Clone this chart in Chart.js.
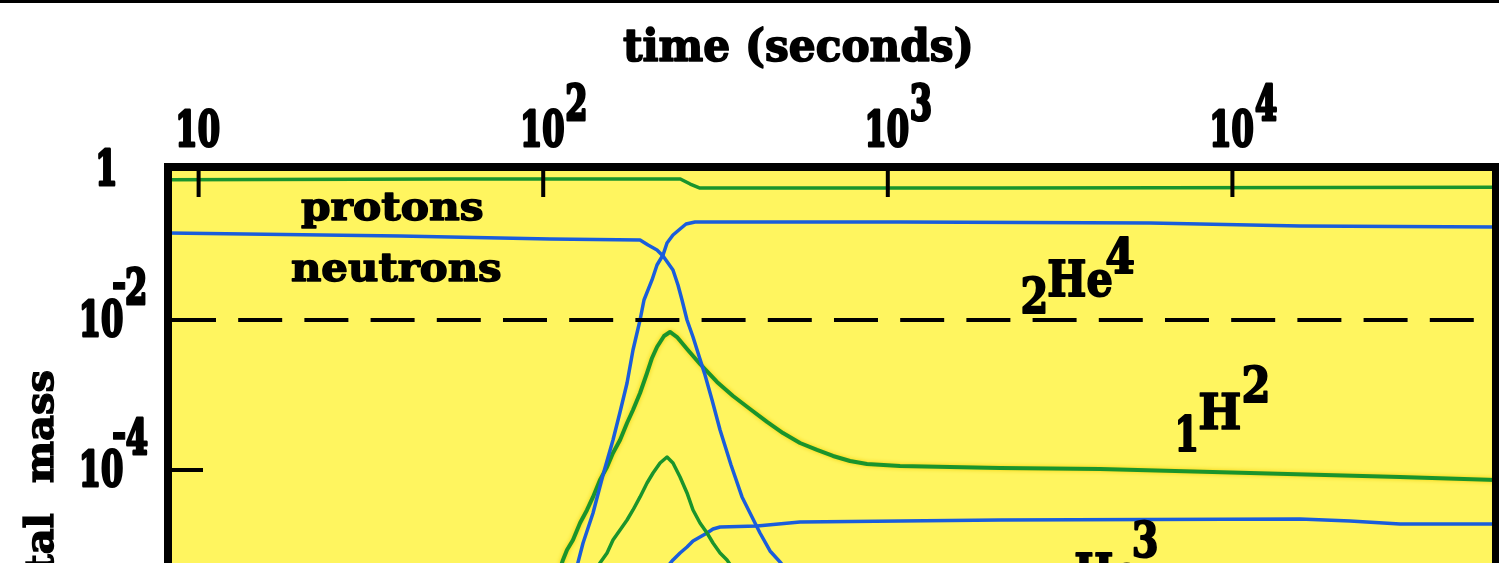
<!DOCTYPE html>
<html>
<head>
<meta charset="utf-8">
<title>Light element abundances vs time</title>
<script src="https://cdn.jsdelivr.net/npm/chart.js@4/dist/chart.umd.min.js"></script>
<style>
  html, body { margin: 0; padding: 0; background: #fff; overflow: hidden; }
  canvas { display: block; }
</style>
</head>
<body>
<canvas id="bbn-chart" width="1499" height="563"></canvas>
<script>
let bbnCanvas = document.getElementById("bbn-chart");

// Axis ranges and tick values (time in seconds, mass fraction)
const timeTicks = [10, 100, 1000, 10000];
const massTicks = [1, 1e-2, 1e-4];
const timeRange = [8.15, 58200];
const massRange = [5.75e-6, 1.0965];

// Dashed reference level
const refTime = [8.37, 58200];
const refLevel = 0.01;

// protons
const protonTime = [8.15, 54, 250, 267, 285, 2100, 58200];
const protonFrac = [0.74, 0.76, 0.76, 0.65, 0.575, 0.575, 0.59];

// neutrons
const neutronTime = [8.15, 38.4, 104.6, 191, 201.5, 213.9, 222.7, 238, 246.1, 252.8, 261.4, 272.1, 294.8, 309, 326, 350.8, 377.5, 403.6, 425.7, 455.2, 486.6, 503.1];
const neutronFrac = [0.1445, 0.1318, 0.1202, 0.1166, 0.1, 0.0858, 0.0714, 0.0464, 0.0293, 0.01848, 0.01, 0.00593, 0.001848, 0.000858, 0.000342, 0.0001166, 4.37e-5, 2.36e-5, 1.445e-5, 8.32e-6, 5.93e-6, 4.94e-6];

// 2He4
const he4Time = [125.4, 130.5, 139.5, 149.1, 159.4, 167.1, 175.1, 182.2, 191, 196.1, 206.9, 213.9, 222.7, 228.7, 238, 249.5, 259.7, 275.8, 1085, 5765, 15710, 58200];
const he4Frac = [5.25e-6, 1.063e-5, 2.67e-5, 8.58e-5, 0.000251, 0.000593, 0.001445, 0.00398, 0.01, 0.01848, 0.0342, 0.0541, 0.0736, 0.1063, 0.136, 0.1634, 0.1905, 0.2026, 0.2026, 0.1965, 0.1792, 0.1738];

// 1H2 (deuterium)
const h2Time = [112.6, 114.1, 117.2, 122, 127.9, 134, 139.5, 146.1, 153.2, 159.4, 167.1, 175.1, 182.2, 191, 200.1, 206.9, 213.9, 224.2, 233.3, 244.5, 261.4, 285.1, 319.4, 355.5, 398.2, 446.2, 496.4, 556.2, 623.1, 693.4, 776.9, 870.2, 1085, 2117, 4129, 11250, 30640, 58200];
const h2Frac = [5.25e-6, 6.31e-6, 8.58e-6, 1.166e-5, 1.965e-5, 2.93e-5, 4.37e-5, 7.36e-5, 1.096e-4, 1.685e-4, 2.51e-4, 4.23e-4, 6.31e-4, 1.063e-3, 1.965e-3, 3.114e-3, 4.365e-3, 6.12e-3, 6.92e-3, 5.93e-3, 4.10e-3, 2.59e-3, 1.49e-3, 9.70e-4, 6.51e-4, 4.37e-4, 3.11e-4, 2.29e-4, 1.85e-4, 1.537e-4, 1.318e-4, 1.202e-4, 1.131e-4, 1.063e-4, 1.031e-4, 9.12e-5, 8.06e-5, 7.36e-5];

// 1H3 (tritium)
const h3Time = [143.3, 146.1, 153.2, 159.4, 167.1, 175.1, 182.2, 191, 200.1, 208.3, 218.3, 228.7, 238, 249.5, 261.4, 272.1, 285.1, 298.8, 311, 326, 341.5, 350.8];
const h3Frac = [4.94e-6, 5.75e-6, 7.82e-6, 1.166e-5, 1.585e-5, 2.154e-5, 2.93e-5, 4.37e-5, 6.71e-5, 9.12e-5, 1.24e-4, 1.49e-4, 1.24e-4, 8.06e-5, 4.94e-5, 2.93e-5, 1.965e-5, 1.445e-5, 1.063e-5, 7.82e-6, 6.31e-6, 5.25e-6];

// 2He3
const he3Time = [230.2, 238, 249.5, 261.4, 272.1, 285.1, 298.8, 311, 326, 417.4, 556.2, 2117, 15710, 21950, 30640, 58200];
const he3Frac = [5.25e-6, 6.31e-6, 7.82e-6, 9.4e-6, 1.131e-5, 1.279e-5, 1.445e-5, 1.634e-5, 1.738e-5, 1.792e-5, 2.026e-5, 2.154e-5, 2.22e-5, 2.089e-5, 1.905e-5, 1.905e-5];

// Colours
const plotYellow = '#fff55f';
const lineGreen = '#1a942c';
const lineBlue = '#1a5ddb';
const FONT = '"DejaVu Serif", serif';

const pts = (ts, vs) => ts.map((t, i) => ({ x: t, y: vs[i] }));

// Text helper: puts the ink's left edge at x (or right edge, align 'right'),
// optionally squeezed horizontally with sx or fitted to width w
function ink(ctx, str, x, y, size, opts = {}) {
    ctx.font = `bold ${size}px ${FONT}`;
    ctx.textAlign = 'left';
    ctx.textBaseline = 'alphabetic';
    const m = ctx.measureText(str);
    const raw = m.actualBoundingBoxLeft + m.actualBoundingBoxRight;
    const sx = opts.w ? opts.w / raw : (opts.sx || 1);
    const left = opts.align === 'right' ? x - raw * sx : x;
    ctx.save();
    ctx.translate(left + m.actualBoundingBoxLeft * sx, y);
    ctx.scale(sx, 1);
    ctx.fillText(str, 0, 0);
    ctx.lineWidth = (opts.heavy || 1.4) / sx;
    ctx.lineJoin = 'round';
    ctx.strokeText(str, 0, 0);
    ctx.restore();
    return left + raw * sx;
}

// Curve labels: [text, left, baseline, font size, ink width]
const curveLabels = [
    ['protons', 301, 220, 40, 181],
    ['neutrons', 292, 281, 40, 208],
    ['2', 1023, 313, 49, 22], ['He', 1049, 296, 49, 62], ['4', 1107, 273, 49, 27],
    ['1', 1178, 451, 49, 18], ['H', 1200, 429, 49, 40], ['2', 1244, 402, 49, 23],
    ['2', 1050, 606, 49, 22], ['He', 1076, 589, 49, 62], ['3', 1134, 557, 49, 22]
];

const NUM_SIZE = 49;

const decor = {
    id: 'decor',
    beforeDraw(chart) {
        const { ctx, chartArea: a } = chart;
        ctx.save();
        ctx.fillStyle = '#000';
        ctx.fillRect(0, 0, chart.width, 3);
        ctx.fillStyle = plotYellow;
        ctx.fillRect(a.left, a.top, a.right - a.left, chart.height - a.top);
        ctx.restore();
    },
    beforeDatasetDraw(chart, args) {
        if (chart.data.datasets[args.index].label === '1H2') {
            chart.ctx.shadowColor = 'rgba(240, 205, 0, 0.95)';
            chart.ctx.shadowBlur = 4;
        }
    },
    afterDatasetDraw(chart) {
        chart.ctx.shadowColor = 'rgba(0,0,0,0)';
        chart.ctx.shadowBlur = 0;
    },
    afterDatasetsDraw(chart) {
        const { ctx, chartArea: a } = chart;
        const xs = chart.scales.x, ys = chart.scales.y;
        ctx.save();

        // frame
        ctx.strokeStyle = '#000';
        ctx.lineWidth = 8;
        ctx.lineJoin = 'miter';
        ctx.beginPath();
        ctx.moveTo(a.left, chart.height);
        ctx.lineTo(a.left, a.top);
        ctx.lineTo(a.right, a.top);
        ctx.lineTo(a.right, chart.height);
        ctx.stroke();

        // inward tick marks
        ctx.lineWidth = 4;
        ctx.beginPath();
        timeTicks.forEach(t => {
            const px = xs.getPixelForValue(t);
            ctx.moveTo(px, a.top);
            ctx.lineTo(px, a.top + 30);
        });
        massTicks.forEach(v => {
            const py = ys.getPixelForValue(v);
            if (py - a.top > 8) {
                ctx.moveTo(a.left, py);
                ctx.lineTo(a.left + 35, py);
            }
        });
        ctx.stroke();

        // tick labels
        ctx.fillStyle = '#000';
        ctx.strokeStyle = '#000';
        ctx.font = `bold ${NUM_SIZE}px ${FONT}`;
        const m10 = ctx.measureText('10');
        const digitSx = 40 / (m10.actualBoundingBoxLeft + m10.actualBoundingBoxRight);

        timeTicks.forEach(t => {
            const px = xs.getPixelForValue(t);
            const k = Math.round(Math.log10(t));
            const right = ink(ctx, '10', px - 20, a.top - 21, NUM_SIZE, { sx: digitSx, heavy: 2 });
            if (k > 1) ink(ctx, String(k), right + 4, a.top - 47, NUM_SIZE, { sx: digitSx, heavy: 2 });
        });

        massTicks.forEach(v => {
            const py = ys.getPixelForValue(v);
            const k = Math.round(Math.log10(v));
            if (k === 0) {
                ink(ctx, '1', a.left - 53, py + 15, NUM_SIZE, { sx: digitSx, heavy: 2, align: 'right' });
            } else {
                const right = ink(ctx, '10', a.left - 46, py + 16, NUM_SIZE, { sx: digitSx, heavy: 2, align: 'right' });
                ink(ctx, '-', right - 9, py - 21, NUM_SIZE, { w: 12, heavy: 1 });
                ink(ctx, String(-k), right + 5, py - 16, NUM_SIZE, { sx: digitSx, heavy: 2 });
            }
        });

        // axis titles
        ink(ctx, 'time (seconds)', 624, 61, 44, { w: 346, heavy: 1.6 });

        ctx.save();
        ctx.translate(53, 370);
        ctx.rotate(-Math.PI / 2);
        ctx.font = `bold 40px ${FONT}`;
        ctx.textAlign = 'right';
        ctx.textBaseline = 'alphabetic';
        ctx.wordSpacing = '16px';
        ctx.lineWidth = 1.4;
        ctx.fillText('fraction of total mass', 0, 0);
        ctx.strokeText('fraction of total mass', 0, 0);
        ctx.restore();

        // curve labels
        curveLabels.forEach(([txt, x, y, size, w]) => ink(ctx, txt, x, y, size, { w: w, heavy: 1.6 }));

        ctx.restore();
    }
};

let bbnChart = new Chart(bbnCanvas, {
    type: 'line',
    data: {
        datasets: [
            {
                label: 'reference',
                data: pts(refTime, [refLevel, refLevel]),
                borderColor: '#000',
                borderWidth: 4,
                borderDash: [44, 22.2]
            },
            { label: 'protons', data: pts(protonTime, protonFrac), borderColor: lineGreen },
            { label: 'neutrons', data: pts(neutronTime, neutronFrac), borderColor: lineBlue },
            { label: '2He4', data: pts(he4Time, he4Frac), borderColor: lineBlue },
            { label: '1H2', data: pts(h2Time, h2Frac), borderColor: lineGreen, borderWidth: 4 },
            { label: '1H3', data: pts(h3Time, h3Frac), borderColor: lineGreen },
            { label: '2He3', data: pts(he3Time, he3Frac), borderColor: lineBlue }
        ]
    },
    options: {
        responsive: false,
        devicePixelRatio: 1,
        animation: false,
        layout: {
            padding: { left: 168, top: 167, right: 3, bottom: 0 }
        },
        scales: {
            x: { type: 'logarithmic', min: timeRange[0], max: timeRange[1], display: false },
            y: { type: 'logarithmic', min: massRange[0], max: massRange[1], display: false }
        },
        elements: {
            point: { radius: 0 },
            line: { borderWidth: 3.5, tension: 0, fill: false, borderJoinStyle: 'round' }
        },
        plugins: {
            legend: { display: false },
            tooltip: { enabled: false }
        }
    },
    plugins: [decor]
});
</script>
</body>
</html>
